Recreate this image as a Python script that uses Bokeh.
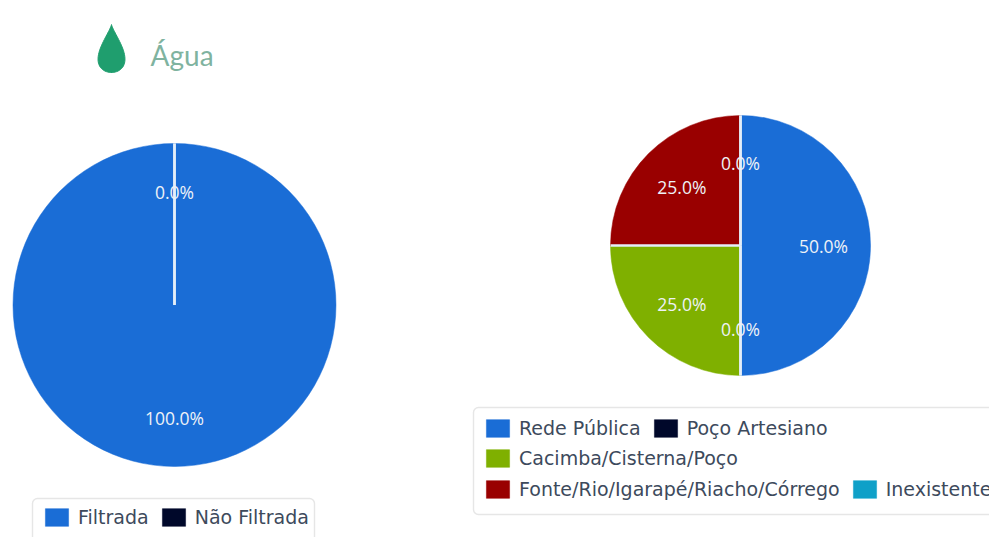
import numpy as np
from bokeh.embed import file_html
from bokeh.resources import INLINE
from bokeh.plotting import figure
from bokeh.models import Legend, LegendItem, BoxAnnotation, Range1d
from bokeh.core.properties import value

# data
filter_names = ["Filtrada", "Não Filtrada"]
filter_values = [100.0, 0.0]
filter_colors = ["#1a6dd6", "#00082a"]

source_names = ["Rede Pública", "Poço Artesiano", "Cacimba/Cisterna/Poço",
                "Fonte/Rio/Igarapé/Riacho/Córrego", "Inexistente"]
source_values = [50.0, 0.0, 25.0, 25.0, 0.0]
source_colors = ["#1a6dd6", "#00082a", "#7fb000", "#990000", "#0fa0c8"]
source_rows = [[0, 1], [2], [3, 4]]

title_text = "Água"

# layout (page pixels, y measured from the page top)
W, H = 989, 537
FONT = "Open Sans"
def Y(py):
    return H - py

p = figure(width=W, height=H, output_backend="svg", toolbar_location=None,
           x_axis_type=None, y_axis_type=None, min_border=0,
           x_range=Range1d(0, W), y_range=Range1d(0, H),
           background_fill_color="white", border_fill_color="white")
p.grid.visible = False
p.outline_line_color = None


def pie(cx, cy, r, names, vals, colors, lab_r, font_size):
    total = sum(vals)
    rends = []
    a = np.pi / 2
    seg = []
    for n, v, c in zip(names, vals, colors):
        sweep = 2 * np.pi * v / total
        b = a - sweep
        # a sweep of exactly one turn would draw as nothing
        rends.append(p.wedge(x=[cx], y=[Y(cy)], radius=r if v > 0 else 0, radius_units="screen",
                             start_angle=[a - sweep * 0.9999], end_angle=[a],
                             fill_color=c, line_color=c, line_width=0.5))
        seg.append(a)
        a = b
    a = np.pi / 2
    lx, ly, lt = [], [], []
    for v in vals:
        mid = a - np.pi * v / total
        lx.append(cx + lab_r * np.cos(mid))
        ly.append(Y(cy) + lab_r * np.sin(mid))
        lt.append(f"{v:.1f}%")
        a -= 2 * np.pi * v / total
    p.segment(x0=[cx] * len(seg), y0=[Y(cy)] * len(seg),
              x1=[cx + r * np.cos(s) for s in seg], y1=[Y(cy) + r * np.sin(s) for s in seg],
              line_color="#e4eef9", line_width=2.5)
    p.text(x=lx, y=ly, text=lt, text_color="#eef2f6", text_font=value(FONT),
           text_font_size=font_size, text_align="center", text_baseline="middle")
    return rends


def legend_row(rends, labels, left, center_y, spacing=10):
    lg = Legend(items=[LegendItem(label=l, renderers=[r]) for l, r in zip(labels, rends)],
                orientation="horizontal", location=(left, Y(center_y) - 11),
                margin=0, padding=0, spacing=spacing,
                glyph_width=29, glyph_height=22, label_standoff=7,
                label_text_font="DejaVu Sans", label_text_font_size="19px",
                label_text_color="#3d4a5c", label_height=22,
                background_fill_alpha=0, border_line_alpha=0)
    p.add_layout(lg, "center")


left_r = pie(174, 304.5, 161.5, filter_names, filter_values, filter_colors, 113, "17.5px")
right_r = pie(740, 245, 130, source_names, source_values, source_colors, 83, "17.5px")

# legend boxes
for l, r, t, b in [(32, 314, 498, 560), (473, 1010, 407, 514)]:
    p.add_layout(BoxAnnotation(left=l, right=r, top=Y(t), bottom=Y(b), fill_color="white",
                               line_color="#ababab", line_width=1.4, border_radius=5, level="underlay"))

legend_row(left_r, filter_names, 42, 517)
for row, cy in zip(source_rows, [428, 458, 489]):
    legend_row([right_r[i] for i in row], [source_names[i] for i in row], 483, cy)

# header: drop icon + title
t = np.linspace(0, 2 * np.pi, 80)
p.patch(x=111 + 19.5 * np.sin(t) * np.sin(t / 2) ** 1.6, y=Y(24) - 24 * (1 - np.cos(t)),
        fill_color="#1f9e6e", line_color="#1f9e6e")
p.text(x=[150], y=[Y(54)], text=[title_text], text_color="#7fb3a0", text_font=value("Lato"),
       text_font_size="28px", text_align="left", text_baseline="middle")

open("out.html", "w").write(file_html(p, INLINE))
